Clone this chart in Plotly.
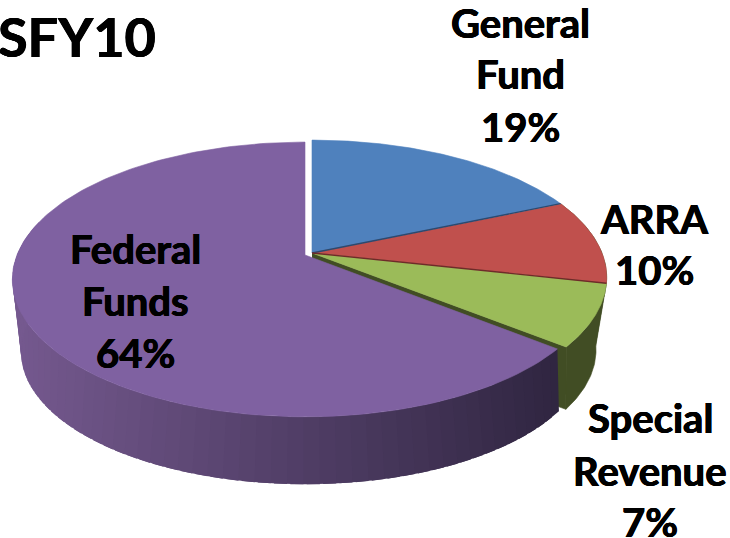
import numpy as np
import plotly.graph_objects as go

categories = ["General Fund", "ARRA", "Special Revenue", "Federal Funds"]
values = [18.5, 10.0, 7.3, 64.2]
percent_labels = ["19%", "10%", "7%", "64%"]
top_colors = ["#4f81bd", "#c0504d", "#9bbb59", "#7f61a1"]
edge_colors = ["#2b4a70", "#6e2b29", "#414d24", "#4a3a5e"]
title_text = "SFY10"

CX, CY = 312, 253
TOP = dict(a=133, b=290, k=0.178)
TOP_PULLED = dict(a=133, b=288, k=0.178)
BOT = dict(a=124, b=275, k=0.25, y0=317)
SHIFT = (-7, 2)
THICKEN = "0.5px 0 0 black, -0.5px 0 0 black, 0 0.4px 0 black"


def proj(theta, r=1.0, disc=TOP, y0=CY, dx=0, dy=0):
    u, v = r * np.sin(theta), r * np.cos(theta)
    w = 1 + disc["k"] * v
    return CX + dx + disc["b"] * u / w, y0 + dy - disc["a"] * v / w


def poly(fig, x, y, color, stroke=0.6):
    fig.add_trace(go.Scatter(x=list(x), y=list(y), mode="lines", fill="toself", fillcolor=color,
                             line=dict(color=color, width=stroke), hoverinfo="skip", showlegend=False))


def mix(c1, c2, t):
    a = [int(c1[i:i + 2], 16) for i in (1, 3, 5)]
    b = [int(c2[i:i + 2], 16) for i in (1, 3, 5)]
    return "rgb(%d,%d,%d)" % tuple(round(p + (q - p) * t) for p, q in zip(a, b))


fig = go.Figure()
cum = np.cumsum([0] + values) / sum(values) * 2 * np.pi

# outer side and cut wall of the small slices
for i in (1, 2):
    t = np.linspace(cum[i], cum[i + 1], 40)
    xt, yt = proj(t)
    xb, yb = proj(t, disc=BOT, y0=BOT["y0"])
    poly(fig, np.r_[xt, xb[::-1]], np.r_[yt, yb[::-1]], edge_colors[2])
xa, ya = proj(cum[3])
xb, yb = proj(cum[3], disc=BOT, y0=BOT["y0"])
poly(fig, [CX, xa, xb, CX], [CY, ya, yb, BOT["y0"]], edge_colors[2])

# outer side of the pulled-out slice, shaded strip by strip (overlapping, no stroke)
edges = np.linspace(cum[3], cum[4], 91)
step = edges[1] - edges[0]
for t0 in edges[:-1]:
    if np.cos(t0) > 0.2:
        continue
    t = np.linspace(t0, min(t0 + 1.8 * step, cum[4]), 3)
    xt, yt = proj(t, disc=TOP_PULLED, dx=SHIFT[0], dy=SHIFT[1])
    xb, yb = proj(t, disc=BOT, y0=BOT["y0"], dx=SHIFT[0], dy=SHIFT[1])
    f = np.clip((xt.mean() - 12) / (556 - 12), 0, 1)
    poly(fig, np.r_[xt, xb[::-1]], np.r_[yt, yb[::-1]], mix("#75598f", "#2f2540", f), stroke=0)

# slice tops
for i in (3, 0, 1, 2):
    dx, dy = SHIFT if i == 3 else (0, 0)
    disc = TOP_PULLED if i == 3 else TOP
    t = np.linspace(cum[i], cum[i + 1], 160)
    x, y = proj(t, disc=disc, dx=dx, dy=dy)
    poly(fig, np.r_[CX + dx, x, CX + dx], np.r_[CY + dy, y, CY + dy], top_colors[i])

# dark seams between the tops
for i, color in ((1, edge_colors[0]), (2, edge_colors[1])):
    x, y = proj(cum[i])
    fig.add_trace(go.Scatter(x=[CX, x], y=[CY, y], mode="lines", line=dict(color=color, width=1.4),
                             hoverinfo="skip", showlegend=False))

# labels, one text item per line
label_x = [520, 654, 650, 135]
label_y = [[23, 74, 127], [219, 270], [418, 471, 522], [249, 301, 353]]
label_lines = [["General", "Fund"], ["ARRA"], ["Special", "Revenue"], ["Federal", "Funds"]]
for i in range(4):
    lines = label_lines[i] + [percent_labels[i]]
    for line, yy in zip(lines, label_y[i]):
        fig.add_annotation(x=label_x[i], y=yy, text="<b>%s</b>" % line, showarrow=False,
                           font=dict(family="Lato", size=40, color="black", shadow=THICKEN),
                           xanchor="center", yanchor="middle")
fig.add_annotation(x=0, xshift=-4, y=36, text="<b>%s</b>" % title_text, showarrow=False,
                   font=dict(family="Lato", size=54, color="black", shadow=THICKEN),
                   xanchor="left", yanchor="middle")

fig.update_xaxes(range=[0, 730], visible=False, fixedrange=True)
fig.update_yaxes(range=[538, 0], visible=False, fixedrange=True)
fig.update_layout(width=730, height=538, margin=dict(l=0, r=0, t=0, b=0),
                  paper_bgcolor="white", plot_bgcolor="white", showlegend=False)
fig.write_html("out.html", config={"displayModeBar": False},
               post_script="document.body.style.margin='0';document.body.style.overflow='hidden';")
